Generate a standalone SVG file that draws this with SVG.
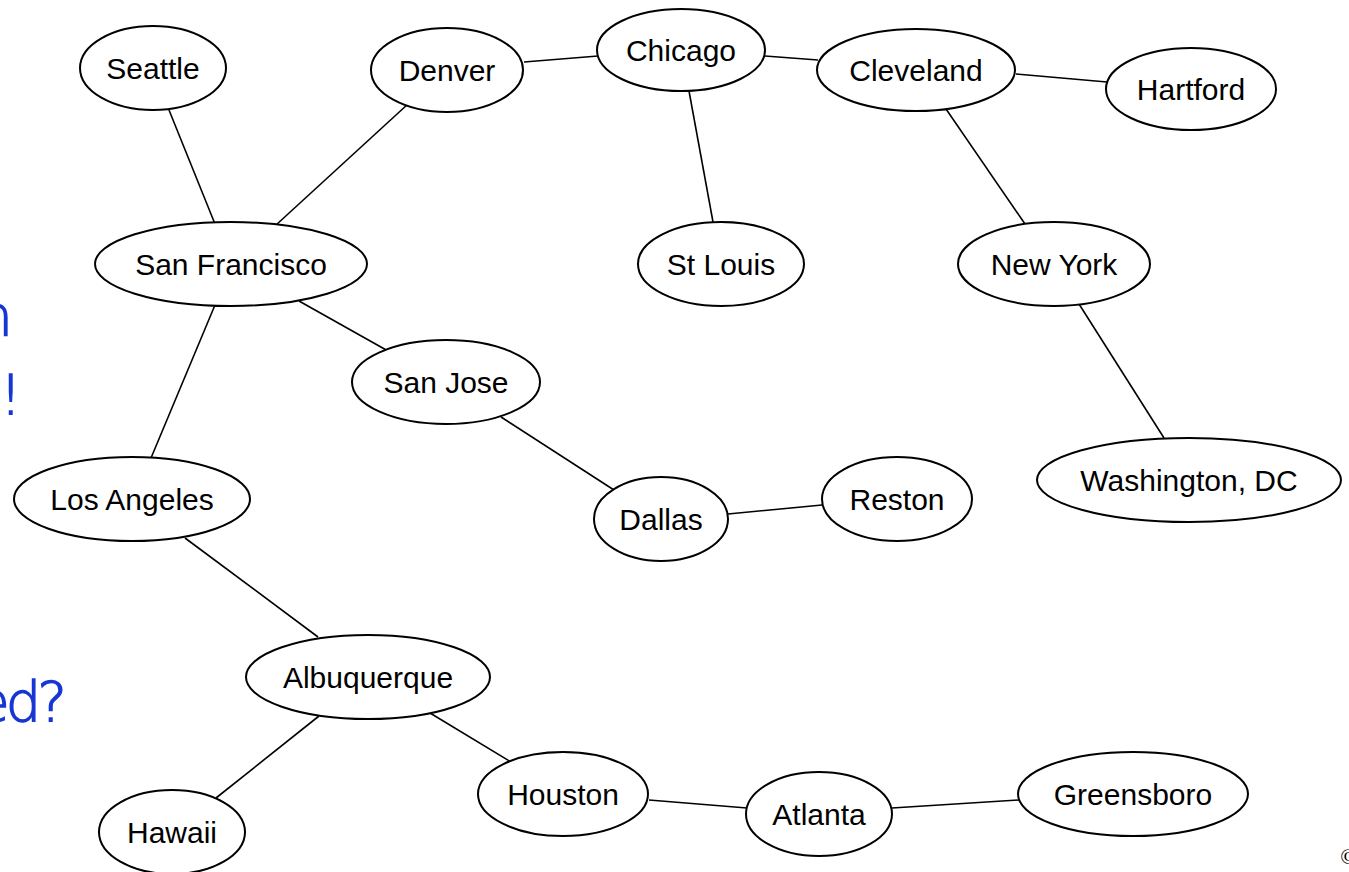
<svg xmlns="http://www.w3.org/2000/svg" width="1349" height="872" viewBox="0 0 1349 872">
  <style>
    .node ellipse { fill: #ffffff; stroke: #000000; stroke-width: 2; }
    .node text { font-family: "Liberation Sans", Arial, sans-serif; font-size: 30px; fill: #000000; text-anchor: middle; }
    #edges line { stroke: #000000; stroke-width: 1.6; }
    .note { font-family: "DejaVu Sans", "Liberation Sans", sans-serif; font-weight: 200; font-size: 56px; fill: #1636d4; stroke: #1636d4; stroke-width: 1.3; text-anchor: end; letter-spacing: -4px; }
  </style>
  <rect width="1349" height="872" fill="#ffffff"/>

  <!-- handwritten notes running off the left edge -->
  <g id="notes">
    <text class="note" x="9" y="335">n</text>
    <text class="note" x="18" y="414">n!</text>
    <text class="note" x="63" y="721">ed?</text>
    <text x="1340" y="864" font-family="Liberation Serif, serif" font-style="italic" font-size="22" fill="#000000">©</text>
  </g>

  <!-- connectors -->
  <g id="edges">
    <line x1="169" y1="110" x2="215" y2="224"/>
    <line x1="408" y1="104" x2="276" y2="225"/>
    <line x1="524" y1="62" x2="598" y2="56"/>
    <line x1="765" y1="56" x2="818" y2="60"/>
    <line x1="689" y1="91" x2="713" y2="222"/>
    <line x1="1016" y1="74" x2="1107" y2="82"/>
    <line x1="946" y1="109" x2="1025" y2="224"/>
    <line x1="1079" y1="304" x2="1164" y2="438"/>
    <line x1="299" y1="301" x2="388" y2="351"/>
    <line x1="215" y1="305" x2="151" y2="458"/>
    <line x1="501" y1="417" x2="614" y2="490"/>
    <line x1="728" y1="514" x2="822" y2="505"/>
    <line x1="185" y1="538" x2="318" y2="637"/>
    <line x1="319" y1="716" x2="216" y2="798"/>
    <line x1="430" y1="713" x2="511" y2="762"/>
    <line x1="649" y1="800" x2="747" y2="808"/>
    <line x1="892" y1="808" x2="1019" y2="800"/>
  </g>

  <!-- city nodes -->
  <g id="seattle" class="node"><ellipse cx="153" cy="68" rx="73" ry="42"/><text x="153" y="79">Seattle</text></g>
  <g id="denver" class="node"><ellipse cx="447" cy="70" rx="76" ry="42"/><text x="447" y="81">Denver</text></g>
  <g id="chicago" class="node"><ellipse cx="681" cy="50" rx="84" ry="41"/><text x="681" y="61">Chicago</text></g>
  <g id="cleveland" class="node"><ellipse cx="916" cy="70" rx="99" ry="41"/><text x="916" y="81">Cleveland</text></g>
  <g id="hartford" class="node"><ellipse cx="1191" cy="89" rx="85" ry="41"/><text x="1191" y="100">Hartford</text></g>
  <g id="san-francisco" class="node"><ellipse cx="231" cy="264" rx="136" ry="42"/><text x="231" y="275">San Francisco</text></g>
  <g id="st-louis" class="node"><ellipse cx="721" cy="264" rx="83" ry="42"/><text x="721" y="275">St Louis</text></g>
  <g id="new-york" class="node"><ellipse cx="1054" cy="264" rx="96" ry="42"/><text x="1054" y="275">New York</text></g>
  <g id="san-jose" class="node"><ellipse cx="446" cy="382" rx="94" ry="42"/><text x="446" y="393">San Jose</text></g>
  <g id="los-angeles" class="node"><ellipse cx="132" cy="499" rx="118" ry="42"/><text x="132" y="510">Los Angeles</text></g>
  <g id="washington-dc" class="node"><ellipse cx="1189" cy="480" rx="152" ry="42"/><text x="1189" y="491">Washington, DC</text></g>
  <g id="reston" class="node"><ellipse cx="897" cy="499" rx="75" ry="42"/><text x="897" y="510">Reston</text></g>
  <g id="dallas" class="node"><ellipse cx="661" cy="519" rx="67" ry="42"/><text x="661" y="530">Dallas</text></g>
  <g id="albuquerque" class="node"><ellipse cx="368" cy="677" rx="122" ry="42"/><text x="368" y="688">Albuquerque</text></g>
  <g id="houston" class="node"><ellipse cx="563" cy="794" rx="85" ry="42"/><text x="563" y="805">Houston</text></g>
  <g id="atlanta" class="node"><ellipse cx="819" cy="814" rx="73" ry="42"/><text x="819" y="825">Atlanta</text></g>
  <g id="greensboro" class="node"><ellipse cx="1133" cy="794" rx="115" ry="42"/><text x="1133" y="805">Greensboro</text></g>
  <g id="hawaii" class="node"><ellipse cx="172" cy="832" rx="73" ry="42"/><text x="172" y="843">Hawaii</text></g>
</svg>
